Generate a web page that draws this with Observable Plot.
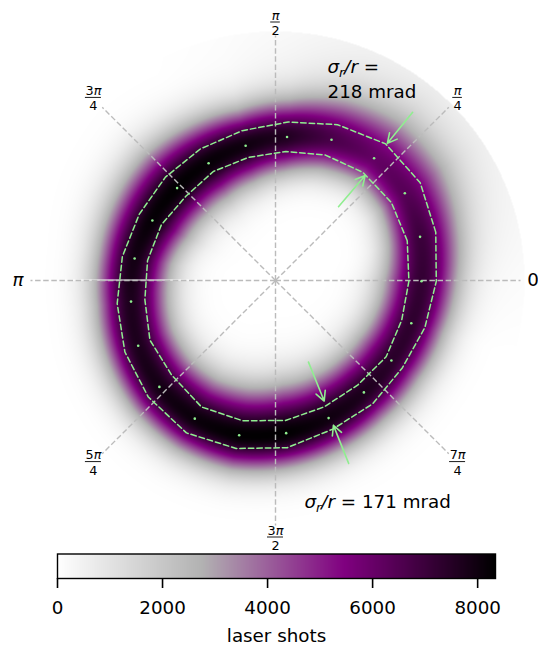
<!DOCTYPE html>
<html>
<head>
<meta charset="utf-8">
<script src="https://cdn.jsdelivr.net/npm/d3@7"></script>
<script src="https://cdn.jsdelivr.net/npm/@observablehq/plot@0.6"></script>
<style>
html, body { margin: 0; padding: 0; background: #fff; }
#chart svg { display: block; }
#cbar g[aria-label="x-axis tick"] path { stroke-width: 1.6px; }
</style>
</head>
<body>
<div id="chart"></div>
<script>
// ---------------- data ----------------
// angular bins (degrees) of the ring fit
const binAngle    = [16.8, 34.0, 51.1, 68.3, 85.4, 102.5, 119.7, 136.8, 154.0, 171.1, 188.3, 205.4, 222.5, 239.7, 256.8, 274.0, 291.1, 308.3, 325.4, 342.5, 359.7];
// fitted ring radius (dots)
const ringRadius  = [151, 156, 157, 151.5, 144, 138, 135, 135, 137, 142.6, 146, 152, 157.5, 160, 159, 153, 147.5, 142.6, 140.8, 142.4, 146];
// inner / outer dashed contours
const innerRadius = [137.6, 139.7, 139, 135, 129.5, 126, 125.5, 123, 127, 129.5, 132, 139, 140.5, 146.5, 144, 140.4, 135.4, 133, 134.4, 132.3, 133.4];
const outerRadius = [167.4, 174.6, 175.5, 167.7, 159, 153.5, 151.5, 151, 151.5, 155, 160, 166.7, 172.5, 176.5, 172.5, 167.6, 159.3, 157, 154, 156.6, 160.8];
// peak laser shots per bin, radial spread inward / outward, faint outer halo share
const peakShots   = [7000, 6400, 6100, 6700, 7600, 8000, 8200, 8300, 8200, 7900, 7700, 7700, 7900, 8100, 8300, 8300, 8000, 7700, 7400, 7300, 7200];
const widthIn     = [24, 23, 23, 24, 25, 26, 27, 27, 27, 26, 26, 27, 29, 31, 33, 33, 31, 29, 28, 27, 27];
const widthOut    = [27, 31, 32, 29, 25, 25, 29, 31, 29, 25, 24, 24, 24, 24, 24, 24, 24, 24, 24, 24, 25];
const haloShare   = [0.1, 0.16, 0.18, 0.15, 0.08, 0.03, 0, 0, 0, 0, 0, 0, 0, 0, 0, 0, 0, 0, 0, 0, 0.04];

// polar grid
const gridAngles = [0, 45, 90, 135, 180, 225, 270, 315];
const gridLabels = ["0", "π/4", "π/2", "3π/4", "π", "5π/4", "3π/2", "7π/4"];

// width arrows (angle in degrees, from radius, to radius)
const arrowAngle = [50.8, 49.5, 292.0, 291.8];
const arrowFrom  = [217, 97, 88, 197];
const arrowTo    = [177, 138, 130, 156];

// annotation texts
const annotations = ["σ_r/r =", "218 mrad", "σ_r/r = 171 mrad"];

// colour bar
const cbarTicks = [0, 2000, 4000, 6000, 8000];
const cbarMax = 8340;
const cbarLabel = "laser shots";
const cmapStops = [0, 0.33, 0.655, 1];
const cmapColors = ["#ffffff", "#b2b2b2", "#800080", "#000000"];

// ---------------- layout ----------------
const W = 538, H = 540, CX = 275, CY = 280;
const R_IMAGE = 249, R_GRID = 245, R_LABEL = 257.5, HALO_WIDTH = 80;
const GREEN = "#90ee90";
const FONT = "DejaVu Sans";
const FS = 18.3, FS_SMALL = 12.8;
const DEG = Math.PI / 180;

const cmap = d3.scaleLinear().domain(cmapStops).range(cmapColors).interpolate(d3.interpolateRgb).clamp(true);
const colorScale = {type: "linear", domain: [0, cbarMax], interpolate: (t) => cmap(t), clamp: true};

const nBins = binAngle.length;
function params(deg) {
  const a = ((deg % 360) + 360) % 360;
  let i = nBins - 1;
  for (let k = 0; k < nBins; k++) if (binAngle[k] <= a) i = k;
  const j = (i + 1) % nBins;
  let a0 = binAngle[i], a1 = binAngle[j];
  if (a < a0) a0 -= 360;
  if (a1 <= a0) a1 += 360;
  const t = (a - a0) / (a1 - a0);
  const L = (arr) => arr[i] * (1 - t) + arr[j] * t;
  return {r0: L(ringRadius), A: L(peakShots), sIn: L(widthIn), sOut: L(widthOut), f: L(haloShare)};
}

const g = (u) => Math.exp(-0.5 * u * u);
function shots(x, y) {
  const r = Math.hypot(x, y);
  if (r > R_IMAGE) return 0;
  if (x < 0 && y >= 0 && y < 1) return 0; // mesh seam at θ = π
  const p = params(Math.atan2(y, x) / DEG);
  const d = r - p.r0;
  if (d <= 0) return p.A * g(d / p.sIn);
  return p.A * ((1 - p.f) * g(d / p.sOut) + p.f * g(d / HALO_WIDTH));
}

const rows = binAngle.map((a, i) => ({a, r0: ringRadius[i], rin: innerRadius[i], rout: outerRadius[i]}));
const px = (r, a) => r * Math.cos(a * DEG);
const py = (r, a) => r * Math.sin(a * DEG);

const arrows = arrowAngle.map((a, i) => ({a, from: arrowFrom[i], to: arrowTo[i]}));

const labelRows = gridAngles.map((a, i) => {
  const [num, den] = gridLabels[i].split("/");
  return {a, num, den, x: px(R_LABEL, a), y: py(R_LABEL, a)};
});
const singles = labelRows.filter((d) => !d.den);
const fracs = labelRows.filter((d) => d.den);

const main = Plot.plot({
  width: W, height: H,
  margin: 0,
  x: {domain: [-CX, W - CX], axis: null},
  y: {domain: [-(H - CY), CY], axis: null},
  color: colorScale,
  style: {fontFamily: FONT, fontSize: FS + "px", background: "white", overflow: "visible"},
  marks: [
    Plot.raster({fill: shots, x1: -CX, x2: W - CX, y1: -(H - CY), y2: CY, pixelSize: 1}),
    Plot.link(gridAngles, {
      x1: () => 0, y1: () => 0,
      x2: (a) => px(R_GRID, a), y2: (a) => py(R_GRID, a),
      stroke: "#bbbbbb", strokeWidth: 1.4, strokeDasharray: "5.5,2.6"
    }),
    Plot.line(rows, {x: (d) => px(d.rin, d.a), y: (d) => py(d.rin, d.a), curve: "linear-closed",
      stroke: GREEN, strokeWidth: 1.5, strokeDasharray: "5.5,3"}),
    Plot.line(rows, {x: (d) => px(d.rout, d.a), y: (d) => py(d.rout, d.a), curve: "linear-closed",
      stroke: GREEN, strokeWidth: 1.5, strokeDasharray: "5.5,3"}),
    Plot.dot(rows, {x: (d) => px(d.r0, d.a), y: (d) => py(d.r0, d.a), r: 1.3, fill: GREEN, stroke: null}),
    Plot.arrow(arrows, {
      x1: (d) => px(d.from, d.a), y1: (d) => py(d.from, d.a),
      x2: (d) => px(d.to, d.a), y2: (d) => py(d.to, d.a),
      stroke: GREEN, strokeWidth: 1.6, headLength: 10, headAngle: 55
    }),
    Plot.text(singles, {x: "x", y: "y", text: "num", fontSize: FS, textAnchor: "middle", lineAnchor: "middle", fill: "black"}),
    Plot.text(fracs, {x: "x", y: "y", text: "num", fontSize: FS_SMALL, textAnchor: "middle", lineAnchor: "bottom", dy: -3.5, fill: "black"}),
    Plot.text(fracs, {x: "x", y: "y", text: "den", fontSize: FS_SMALL, textAnchor: "middle", lineAnchor: "bottom", dy: 12, fill: "black"}),
    Plot.ruleY(fracs, {y: "y", x1: (d) => d.x - (d.num.length > 1 ? 8 : 4.8), x2: (d) => d.x + (d.num.length > 1 ? 8 : 4.8),
      dy: -1, stroke: "black", strokeWidth: 0.9}),
    Plot.text([annotations[0]], {x: () => 52, y: () => 207.5, text: (d) => d, fontSize: FS, textAnchor: "start", lineAnchor: "bottom", fill: "black"}),
    Plot.text([annotations[1]], {x: () => 52, y: () => 183, text: (d) => d, fontSize: FS, textAnchor: "start", lineAnchor: "bottom", fill: "black"}),
    Plot.text([annotations[2]], {x: () => 29, y: () => -227, text: (d) => d, fontSize: FS, textAnchor: "start", lineAnchor: "bottom", fill: "black"})
  ]
});

const cbar = Plot.plot({
  width: W, height: 105,
  marginLeft: 57, marginRight: 43, marginTop: 13.5, marginBottom: 67,
  x: {domain: [0, cbarMax], ticks: cbarTicks, tickSize: 10, tickPadding: 12, tickFormat: (d) => String(d), label: null},
  y: {domain: [0, 1], axis: null},
  color: colorScale,
  style: {fontFamily: FONT, fontSize: FS + "px", background: "white", overflow: "visible", color: "black"},
  marks: [
    Plot.raster({fill: (x, y) => x, x1: 0, x2: cbarMax, y1: 0, y2: 1, pixelSize: 1}),
    Plot.frame({stroke: "black", strokeWidth: 1.4}),
    Plot.text([cbarLabel], {frameAnchor: "bottom", dy: 63, lineAnchor: "bottom", text: (d) => d, fontSize: FS, fill: "black"})
  ]
});
cbar.id = "cbar";

function richify(svg) {
  svg.querySelectorAll("text").forEach((t) => {
    if (t.querySelector("tspan")) return;
    const s = t.textContent;
    if (s.startsWith("σ_r/r")) {
      const rest = s.slice("σ_r/r".length);
      t.innerHTML = '<tspan font-style="italic">σ</tspan>' +
        '<tspan font-style="italic" font-size="' + FS_SMALL + '" dy="4">r</tspan>' +
        '<tspan font-style="italic" dy="-4">/r</tspan>' +
        '<tspan>' + rest.replace(/ /g, "\u00a0") + '</tspan>';
    } else if (s.includes("π")) {
      t.innerHTML = s.replace("π", '<tspan font-style="italic">π</tspan>');
    }
  });
}
richify(main);

document.getElementById("chart").append(main, cbar);
</script>
</body>
</html>
